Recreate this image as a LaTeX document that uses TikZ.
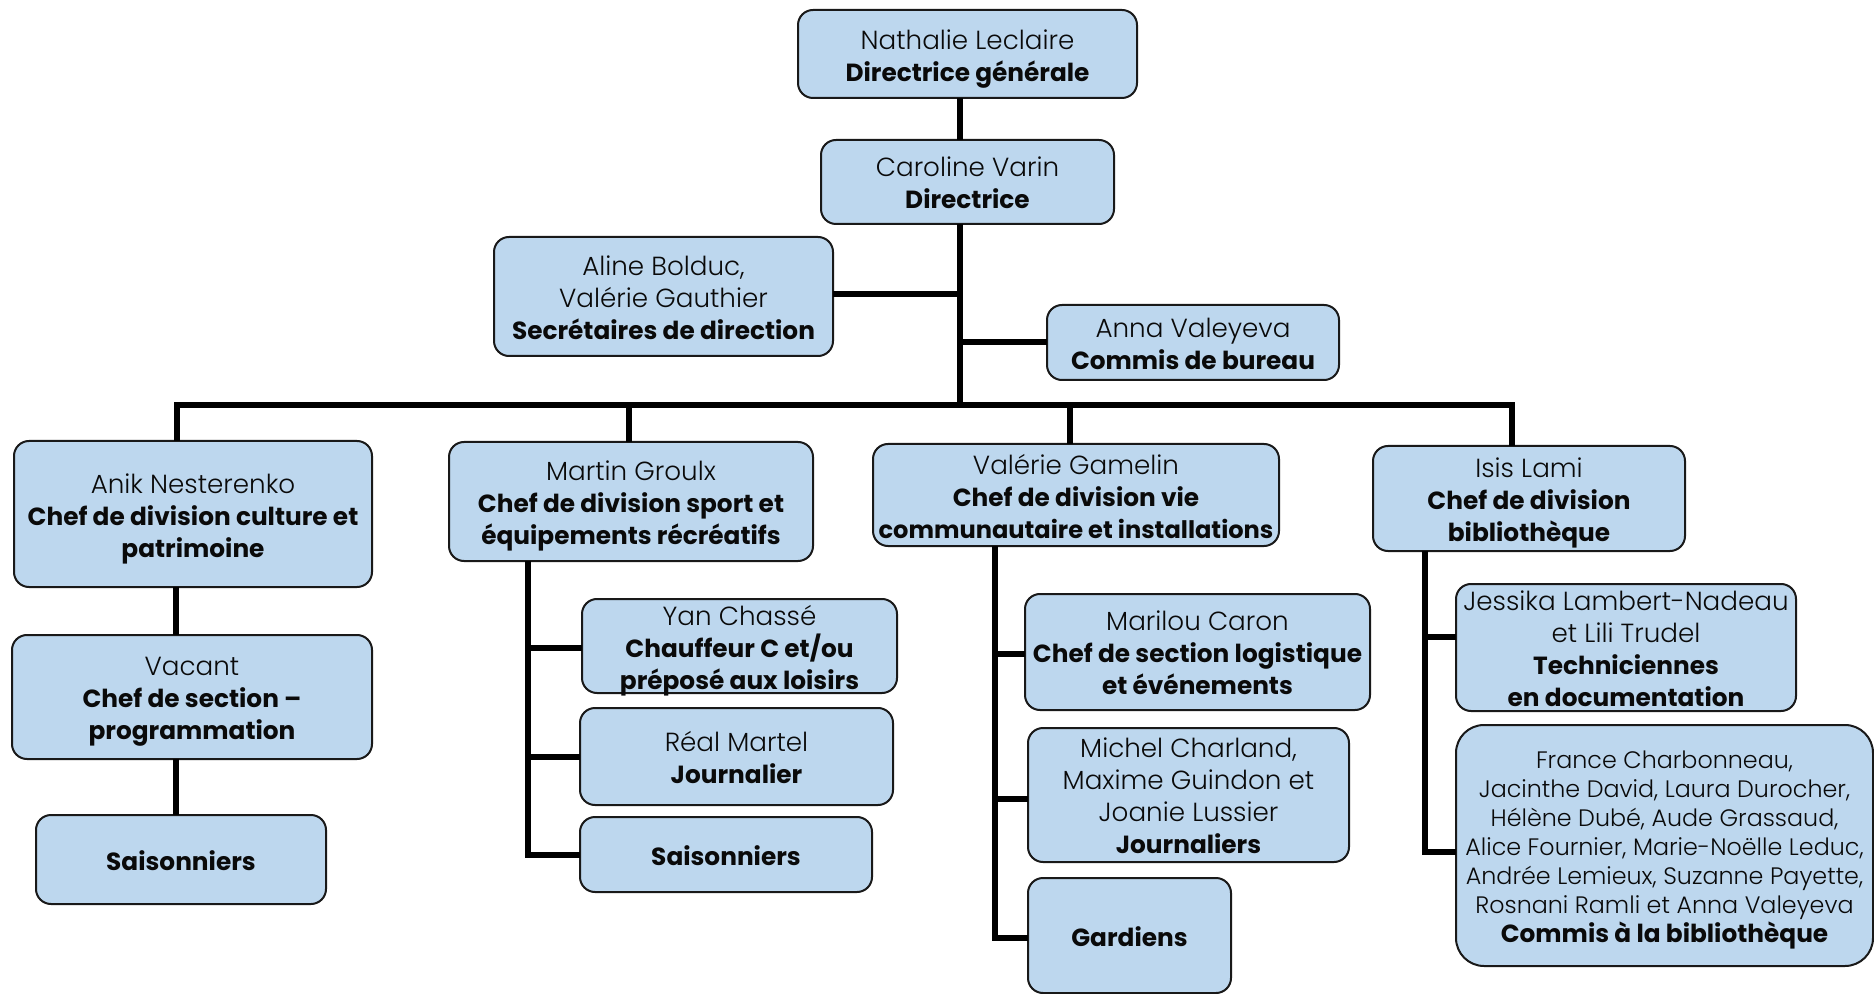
\documentclass[tikz,border=0pt]{standalone}
\usepackage{fontspec}
\setmainfont{Poppins}[UprightFont=* Light, BoldFont=* Bold]
\definecolor{boxfill}{RGB}{189,215,238}
\definecolor{boxline}{RGB}{25,25,25}
\definecolor{txtcol}{RGB}{10,10,10}
\newcommand\rb[1]{{\fontsize{12.4}{16}\selectfont\bfseries #1}}
\tikzset{
  orgbox/.style={draw=boxline, line width=1pt, fill=boxfill, rounded corners=7.5pt, inner sep=0pt, outer sep=0pt},
  orgtxt/.style={align=center, inner sep=0pt, yshift=-2.4pt, text=txtcol, font=\fontsize{13.1}{16}\selectfont},
  smalltxt/.style={align=center, inner sep=0pt, yshift=-2.2pt, text=txtcol, font=\fontsize{11.9}{14.5}\selectfont},
  up/.style={yshift=1.8pt},
  conn/.style={line width=2.75pt, black, line join=miter},
}
% #1 extra text options, #2 name, #3 x1, #4 y1, #5 x2, #6 y2, #7 text
\newcommand\orgbox[7][]{%
  \node[orgbox, minimum width={(#5-#3)*0.5pt}, minimum height={(#6-#4)*0.5pt}] (#2) at ({(#3+#5)/2},{(#4+#6)/2}) {};
  \node[orgtxt, #1] (#2t) at (#2.center) {#7};
}
\begin{document}
\begin{tikzpicture}[x=0.5pt, y=-0.5pt]
\useasboundingbox (0,0) rectangle (1874,994);

% ---- boxes ----
\orgbox{A}{798}{10}{1137}{98}{Nathalie Leclaire\\ \rb{Directrice générale}}
\orgbox[up]{B}{821}{140}{1114}{224}{Caroline Varin\\ \rb{Directrice}}
\orgbox[up]{C}{494}{237}{833}{356}{Aline Bolduc,\\ Valérie Gauthier\\ \rb{Secrétaires de direction}}
\orgbox[up]{D}{1047}{305}{1339}{380}{Anna Valeyeva\\ \rb{Commis de bureau}}

\orgbox{E}{14}{441}{372}{587}{Anik Nesterenko\\ \rb{Chef de division culture et}\\ \rb{patrimoine}}
\orgbox{I}{12}{635}{372}{759}{Vacant\\ \rb{Chef de section –}\\ \rb{programmation}}
\orgbox[up]{J}{36}{815}{326}{904}{\rb{Saisonniers}}

\orgbox{F}{449}{442}{813}{561}{Martin Groulx\\ \rb{Chef de division sport et}\\ \rb{équipements récréatifs}}
\orgbox{K}{582}{599}{897}{693}{Yan Chassé\\ \rb{Chauffeur C et/ou}\\ \rb{préposé aux loisirs}}
\orgbox[up]{L}{580}{708}{893}{805}{Réal Martel\\ \rb{Journalier}}
\orgbox[up]{M}{580}{817}{872}{892}{\rb{Saisonniers}}

\orgbox[up]{G}{873}{444}{1279}{546}{Valérie Gamelin\\ \rb{Chef de division vie}\\ {\fontsize{12.05}{16}\selectfont\bfseries communautaire et installations}}
\orgbox[up]{N}{1025}{594}{1370}{710}{Marilou Caron\\ \rb{Chef de section logistique}\\ \rb{et événements}}
\orgbox[up]{O}{1028}{728}{1349}{862}{Michel Charland,\\ Maxime Guindon et\\ Joanie Lussier\\ \rb{Journaliers}}
\orgbox[up]{P}{1028}{878}{1231}{993}{\rb{Gardiens}}

\orgbox{H}{1373}{446}{1685}{551}{Isis Lami\\ \rb{Chef de division}\\ \rb{bibliothèque}}
\orgbox[up]{Q}{1456}{584}{1796}{711}{Jessika Lambert-Nadeau\\ et Lili Trudel\\ \rb{Techniciennes}\\ \rb{en documentation}}
\node[orgbox, rounded corners=14pt, minimum width={417*0.5pt}, minimum height={241*0.5pt}] (R) at ({(1456+1873)/2},{(725+966)/2}) {};
\node[smalltxt] (Rt) at (R.center) {France Charbonneau,\\ Jacinthe David, Laura Durocher,\\ Hélène Dubé, Aude Grassaud,\\ Alice Fournier, Marie-Noëlle Leduc,\\ Andrée Lemieux, Suzanne Payette,\\ Rosnani Ramli et Anna Valeyeva\\ \rb{Commis à la bibliothèque}};

% ---- connectors ----
\coordinate (tx) at (960,0);
\coordinate (cj) at (960,294);
\coordinate (dj) at (960,342);
\coordinate (busL) at (177,405);
\coordinate (busR) at (1512,405);
\coordinate (busF) at (629,405);
\coordinate (busG) at (1070,405);
\draw[conn] (A.south -| tx) -- (B.north -| tx);
\draw[conn] (B.south -| tx) -- (tx |- busL);
\draw[conn] (cj) -- (cj -| C.east);
\draw[conn] (dj) -- (dj -| D.west);
\draw[conn] (busL |- E.north) -- (busL) -- (busR) -- (busR |- H.north);
\draw[conn] (busF) -- (busF |- F.north);
\draw[conn] (busG) -- (busG |- G.north);

\coordinate (ex) at (176,0);
\draw[conn] (E.south -| ex) -- (I.north -| ex);
\draw[conn] (I.south -| ex) -- (J.north -| ex);

\coordinate (fk) at (528,648);
\coordinate (fl) at (528,757);
\coordinate (fm) at (528,855);
\draw[conn] (F.south -| fm) -- (fm) -- (fm -| M.west);
\draw[conn] (fk) -- (fk -| K.west);
\draw[conn] (fl) -- (fl -| L.west);

\coordinate (gn) at (995,654);
\coordinate (go) at (995,799);
\coordinate (gp) at (995,938);
\draw[conn] (G.south -| gp) -- (gp) -- (gp -| P.west);
\draw[conn] (gn) -- (gn -| N.west);
\draw[conn] (go) -- (go -| O.west);

\coordinate (hq) at (1425,637);
\coordinate (hr) at (1425,852);
\draw[conn] (H.south -| hr) -- (hr) -- (hr -| R.west);
\draw[conn] (hq) -- (hq -| Q.west);
\end{tikzpicture}
\end{document}
